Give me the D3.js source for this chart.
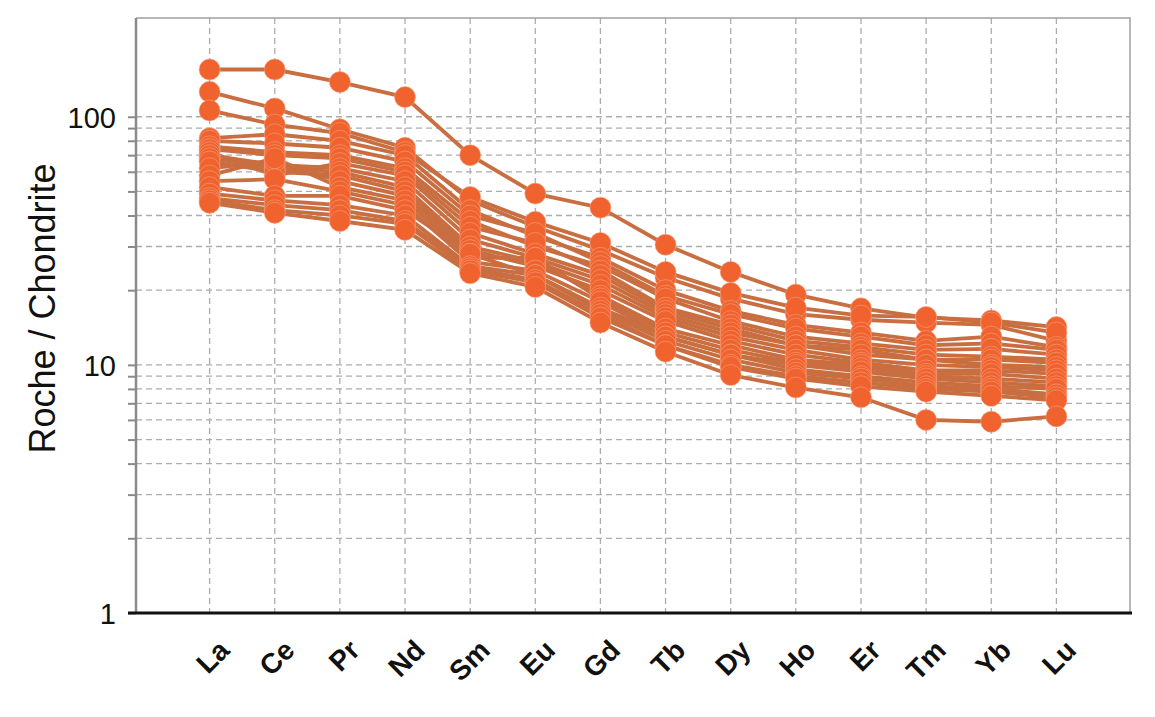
<!DOCTYPE html>
<html>
<head>
<meta charset="utf-8">
<script src="https://cdn.jsdelivr.net/npm/d3@7"></script>
<style>
  body { margin: 0; background: #fff; }
  svg { display: block; font-family: "Liberation Sans", Arial, sans-serif; }
</style>
</head>
<body>
<div id="wrapper"></div>
<script>
const elements = ["La", "Ce", "Pr", "Nd", "Sm", "Eu", "Gd", "Tb", "Dy", "Ho", "Er", "Tm", "Yb", "Lu"];

// chondrite-normalised values, one array per sample
const s01 = [155, 155, 138, 120, 70, 49, 43, 30.5, 23.7, 19.2, 16.9, 15.5, 15.1, 14.2];
const s02 = [126, 108, 89, 75, 46, 36, 29, 22.5, 18.5, 16, 15.2, 14.8, 14.5, 12.5];
const s03 = [106, 93, 86, 72, 47.5, 37.7, 31, 23.7, 19.5, 17, 15.8, 15.6, 14.8, 13.5];
const s04 = [82, 85, 80, 70, 42, 33, 27, 20, 16.5, 14.5, 13.5, 12.5, 13, 11.8];
const s05 = [80, 78, 75, 66, 40, 34, 26, 19, 16, 14, 13, 12, 12.2, 11.5];
const s06 = [76, 72, 70, 62, 38, 30, 25, 18.5, 15, 13, 12.2, 11.5, 11.6, 11];
const s07 = [74, 70, 68, 60, 36, 31, 24, 17, 14.5, 12.5, 11.8, 11, 10.8, 10.5];
const s08 = [72, 58, 65, 58, 34, 28, 23, 16.5, 14, 12, 11.5, 10.5, 10.5, 10.2];
const s09 = [70, 64, 62, 55, 32, 27, 22, 16, 13.5, 12, 11, 10.5, 10, 9.8];
const s10 = [68, 62, 60, 52, 30, 26, 21, 15.5, 13, 11.5, 10.5, 10, 9.8, 9.5];
const s11 = [66, 60, 58, 50, 29, 25, 20, 15, 12.5, 11, 10.2, 9.5, 9.5, 9.2];
const s12 = [62, 66, 55, 48, 28, 26, 19, 14, 12, 10.5, 10, 9.2, 9.2, 8.8];
const s13 = [58, 68, 52, 46, 27, 27, 18.5, 13.5, 11.5, 10.2, 9.7, 9, 8.8, 8.5];
const s14 = [55, 56, 50, 44, 26, 24, 18, 13, 11, 10, 9.4, 8.8, 8.5, 8.2];
const s15 = [52, 48, 48, 42, 28, 23, 17, 13, 11, 9.6, 9, 8.5, 8.2, 8];
const s16 = [49, 46, 44, 40, 25, 23, 16.5, 12.5, 10.5, 9.3, 8.8, 8.2, 8, 7.6];
const s17 = [47, 44, 42, 38, 24.5, 22, 16, 12, 10, 9, 8.5, 8, 7.8, 7.4];
const s18 = [46, 42, 40, 37, 24, 21.5, 15.5, 12, 9.8, 8.8, 8.2, 7.8, 7.5, 7.2];
const s19 = [45, 41, 38, 35, 23.4, 20.6, 14.8, 11.3, 9.1, 8.1, 7.4, 6.0, 5.9, 6.2];

const samples = [s01, s02, s03, s04, s05, s06, s07, s08, s09, s10,
                 s11, s12, s13, s14, s15, s16, s17, s18, s19];

const yTickValues = [1, 2, 3, 4, 5, 6, 7, 8, 9, 10, 20, 30, 40, 50, 60, 70, 80, 90, 100];
const yTickLabels = [1, 10, 100];

let dimensions = {
  width: 1155,
  height: 717,
  margin: { top: 18, right: 25, bottom: 104, left: 136 }
};
dimensions.boundedWidth = dimensions.width - dimensions.margin.left - dimensions.margin.right;
dimensions.boundedHeight = dimensions.height - dimensions.margin.top - dimensions.margin.bottom;

const svg = d3.select("#wrapper")
  .append("svg")
  .attr("width", dimensions.width)
  .attr("height", dimensions.height);

const bounds = svg.append("g")
  .attr("transform", `translate(${dimensions.margin.left},${dimensions.margin.top})`);

const xScale = d3.scalePoint()
  .domain(elements)
  .range([0, dimensions.boundedWidth])
  .padding(1.13);

const yScale = d3.scaleLog()
  .domain([1, 250])
  .range([dimensions.boundedHeight, 0]);

// grid
bounds.append("g")
  .selectAll("line")
  .data(yTickValues.slice(1))
  .join("line")
  .attr("x1", 0)
  .attr("x2", dimensions.boundedWidth)
  .attr("y1", d => yScale(d))
  .attr("y2", d => yScale(d))
  .attr("stroke", "#acacac")
  .attr("stroke-width", 1.3)
  .attr("stroke-dasharray", "6,4");

bounds.append("g")
  .selectAll("line")
  .data(elements)
  .join("line")
  .attr("x1", d => xScale(d))
  .attr("x2", d => xScale(d))
  .attr("y1", 0)
  .attr("y2", dimensions.boundedHeight)
  .attr("stroke", "#acacac")
  .attr("stroke-width", 1.3)
  .attr("stroke-dasharray", "6,4");

// frame top/right
bounds.append("path")
  .attr("d", `M0,0H${dimensions.boundedWidth}V${dimensions.boundedHeight}`)
  .attr("fill", "none")
  .attr("stroke", "#a0a0a0")
  .attr("stroke-width", 1.5);

// y axis
const yAxisGenerator = d3.axisLeft(yScale)
  .tickValues(yTickValues)
  .tickSize(8)
  .tickPadding(12)
  .tickFormat(d => yTickLabels.includes(d) ? d : "");

const yAxis = bounds.append("g").call(yAxisGenerator);
yAxis.select(".domain")
  .attr("stroke", "#8a8a8a")
  .attr("stroke-width", 2.5)
  .attr("d", `M0,0V${dimensions.boundedHeight}`);
yAxis.selectAll(".tick line")
  .attr("stroke", "#8a8a8a")
  .attr("stroke-width", 2);
yAxis.selectAll(".tick text")
  .attr("fill", "#111")
  .style("font-size", "29px")
  .attr("dy", "0.36em");

yAxis.append("text")
  .attr("transform", `translate(${55 - dimensions.margin.left},${dimensions.boundedHeight / 2 - 7}) rotate(-90)`)
  .attr("text-anchor", "middle")
  .attr("fill", "#111")
  .style("font-size", "36px")
  .text("Roche / Chondrite");

// x axis
const xAxisGenerator = d3.axisBottom(xScale).tickSize(0).tickFormat("");
const xAxis = bounds.append("g")
  .attr("transform", `translate(0,${dimensions.boundedHeight})`)
  .call(xAxisGenerator);
xAxis.select(".domain")
  .attr("stroke", "#111")
  .attr("stroke-width", 3)
  .attr("d", `M-8,0H${dimensions.boundedWidth + 2}`);

xAxis.selectAll(".tick")
  .append("text")
  .attr("transform", "translate(21,39) rotate(-45)")
  .attr("text-anchor", "end")
  .attr("fill", "#111")
  .style("font-size", "28px")
  .style("font-weight", "bold")
  .text(d => d);

// series
const lineGenerator = d3.line()
  .x((d, i) => xScale(elements[i]))
  .y(d => yScale(d));

bounds.append("g")
  .selectAll("path")
  .data(samples)
  .join("path")
  .attr("d", lineGenerator)
  .attr("fill", "none")
  .attr("stroke", "#c96e40")
  .attr("stroke-width", 3.8);

const pointGroups = bounds.append("g")
  .selectAll("g")
  .data(samples)
  .join("g");

pointGroups.selectAll("circle")
  .data(d => d)
  .join("circle")
  .attr("cx", (d, i) => xScale(elements[i]))
  .attr("cy", d => yScale(d))
  .attr("r", 10.5)
  .attr("fill", "#f0622e")
  .attr("stroke", "#f7a27f")
  .attr("stroke-width", 1)
  .attr("stroke-opacity", 0.6);
</script>
</body>
</html>
